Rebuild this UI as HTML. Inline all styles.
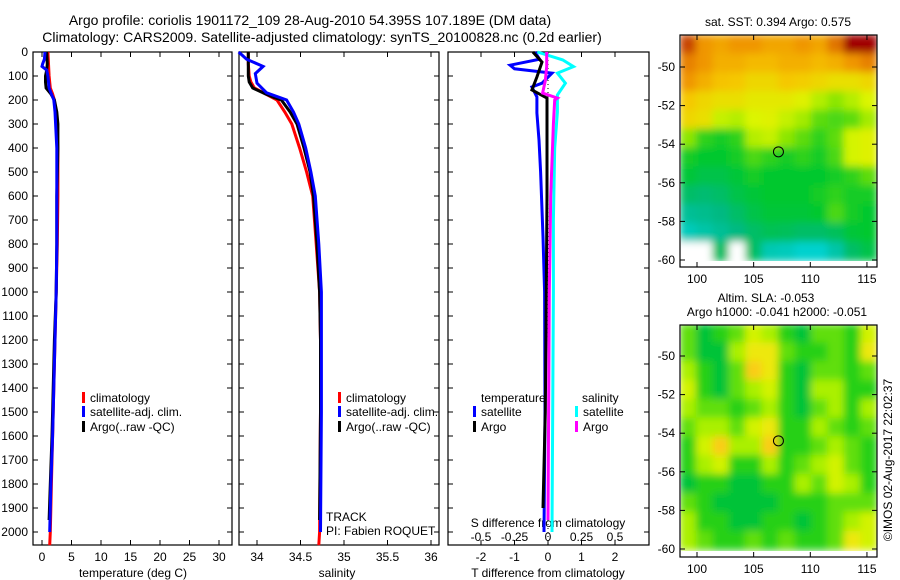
<!DOCTYPE html>
<html><head><meta charset="utf-8"><style>
html,body{margin:0;padding:0;background:#fff;}
svg{display:block;font-family:"Liberation Sans",sans-serif;}
</style></head><body>
<svg id="fig" width="900" height="580" viewBox="0 0 900 580">
<defs>
<filter id="blur" x="-5%" y="-5%" width="110%" height="110%"><feGaussianBlur stdDeviation="4"/></filter>
<clipPath id="clipA"><rect x="681" y="35" width="196" height="226"/></clipPath>
<clipPath id="clipB"><rect x="681" y="325" width="196" height="226"/></clipPath>
</defs>
</svg>
<script>
// ---------- data ----------
const tClimDepth=[0,50,100,150,175,200,250,300,400,600,800,1000,1200,1400,1600,1800,2000,2055];
const tClimVal=[1.0,1.1,1.2,1.4,1.8,2.1,2.3,2.5,2.7,2.7,2.6,2.4,2.2,2.0,1.8,1.6,1.4,1.3];
const tSatDepth=[0,30,50,60,75,100,150,175,200,250,300,400,600,800,1000,1200,1400,1600,1800,2000];
const tSatVal=[0.5,0.4,0.1,0.0,0.8,1.0,1.2,1.6,2.0,2.2,2.3,2.5,2.5,2.5,2.4,2.2,2.0,1.8,1.5,1.3];
const tArgoDepth=[0,50,75,100,125,150,175,200,250,300,400,600,800,1000,1200,1400,1600,1800,1950];
const tArgoVal=[0.8,0.9,0.8,0.6,0.6,0.7,1.5,2.1,2.5,2.7,2.7,2.5,2.5,2.4,2.1,1.9,1.7,1.4,1.2];

const sClimDepth=[0,50,100,125,150,175,200,250,300,400,500,600,800,1000,1200,1500,2000,2055];
const sClimVal=[33.9,33.9,33.91,33.93,33.97,34.1,34.23,34.32,34.4,34.49,34.57,34.64,34.68,34.72,34.73,34.73,34.72,34.71];
const sSatDepth=[0,30,60,90,130,170,200,250,300,400,500,600,800,1000,1200,1500,2000];
const sSatVal=[33.79,33.88,34.07,33.98,34.0,34.11,34.34,34.42,34.48,34.56,34.62,34.67,34.71,34.74,34.74,34.74,34.73];
const sArgoDepth=[0,50,100,125,150,175,190,200,250,300,400,500,600,800,1000,1200,1500,1950];
const sArgoVal=[33.9,33.9,33.9,33.91,33.95,34.1,34.2,34.28,34.38,34.46,34.54,34.61,34.65,34.69,34.72,34.73,34.73,34.72];

const dtSatDepth=[0,30,55,70,88,130,146,187,254,367,500,770,1000,1500,2000];
const dtSatVal=[-0.39,-0.25,-1.13,-1.0,0.12,-0.18,-0.48,-0.33,-0.33,-0.27,-0.22,-0.15,-0.1,-0.09,-0.12];
const dtArgoDepth=[0,42,104,158,192,367,600,1000,1500,1900];
const dtArgoVal=[-0.45,-0.18,-0.33,-0.48,-0.03,-0.03,-0.03,-0.05,-0.08,-0.15];
const dsSatDepth=[0,33,61,88,130,179,250,400,700,1000,2000];
const dsSatVal=[-0.08,0.11,0.19,0.07,0.13,0.07,0.07,0.05,0.04,0.04,0.03];
const dsArgoDepth=[0,60,120,171,192,200,300,600,1000,1950];
const dsArgoVal=[-0.01,-0.01,-0.02,-0.04,0.07,0.05,0.04,0.02,0.01,0.0];

const depthTicks=[0,100,200,300,400,500,600,700,800,900,1000,1100,1200,1300,1400,1500,1600,1700,1800,1900,2000];
const tempTicks=[0,5,10,15,20,25,30];
const salTicks=[34,34.5,35,35.5,36];
const salTickLabels=["34","34.5","35","35.5","36"];
const dtTicks=[-2,-1,0,1,2];
const dsTicks=[-0.5,-0.25,0,0.25,0.5];
const dsTickLabels=["-0.5","-0.25","0","0.25","0.5"];
const lonTicks=[100,105,110,115];
const latTicks=[-50,-52,-54,-56,-58,-60];
const argoLon=107.189, argoLat=-54.395;

const sstGrid=[
[0.95,0.85,0.82,0.85,0.85,0.82,0.82,0.85,0.82,0.9,1,1],
[0.88,0.85,0.8,0.8,0.78,0.78,0.8,0.8,0.78,0.8,0.85,0.88],
[0.85,0.8,0.76,0.75,0.72,0.72,0.75,0.74,0.72,0.7,0.7,0.72],
[0.75,0.72,0.7,0.7,0.68,0.68,0.68,0.66,0.6,0.55,0.6,0.65],
[0.72,0.7,0.62,0.6,0.65,0.66,0.62,0.58,0.5,0.48,0.5,0.58],
[0.55,0.45,0.42,0.45,0.6,0.62,0.55,0.5,0.45,0.5,0.64,0.66],
[0.42,0.4,0.4,0.42,0.48,0.45,0.42,0.45,0.42,0.48,0.64,0.66],
[0.38,0.35,0.35,0.38,0.42,0.4,0.4,0.4,0.4,0.42,0.45,0.5],
[0.3,0.28,0.3,0.35,0.38,0.4,0.4,0.4,0.42,0.45,0.42,0.42],
[0.2,0.22,0.25,0.3,0.35,0.38,0.38,0.38,0.4,0.48,0.42,0.4],
[0.1,0.15,0.2,0.25,0.3,0.33,0.32,0.3,0.3,0.32,0.38,0.4],
[null,null,0.3,null,0.3,0.12,0.1,0.05,0.05,0.15,0.3,0.35]];
const slaGrid=[
[0.5,0.3,0.4,0.5,0.7,0.6,0.4,0.3,0.5,0.5,0.4,0.7],
[0.5,0.3,0.3,0.6,0.8,0.8,0.5,0.4,0.4,0.5,0.4,0.8],
[0.6,0.4,0.3,0.5,0.9,0.8,0.4,0.3,0.5,0.5,0.4,0.5],
[0.7,0.4,0.3,0.5,0.6,0.7,0.4,0.3,0.6,0.6,0.4,0.4],
[0.6,0.5,0.5,0.4,0.5,0.6,0.4,0.3,0.5,0.6,0.4,0.6],
[0.5,0.6,0.6,0.5,0.7,0.8,0.4,0.4,0.6,0.5,0.4,0.5],
[0.4,0.7,0.9,0.6,0.6,0.9,0.4,0.4,0.5,0.6,0.5,0.4],
[0.4,0.6,0.7,0.4,0.4,0.6,0.4,0.5,0.6,0.7,0.5,0.4],
[0.3,0.4,0.4,0.3,0.3,0.4,0.4,0.6,0.5,0.7,0.6,0.4],
[0.5,0.4,0.3,0.3,0.3,0.3,0.4,0.4,0.4,0.5,0.5,0.5],
[0.6,0.4,0.4,0.3,0.3,0.4,0.4,0.3,0.4,0.5,0.6,0.7],
[0.6,0.5,0.4,0.4,0.5,0.4,0.5,0.4,0.4,0.5,0.8,0.7]];

// ---------- helpers ----------
const NS="http://www.w3.org/2000/svg";
const svg=document.getElementById('fig');
function el(tag,attrs,parent){const e=document.createElementNS(NS,tag);for(const k in attrs)e.setAttribute(k,attrs[k]);(parent||svg).appendChild(e);return e;}
function txt(x,y,s,anchor,size,parent){const t=el('text',{x:x,y:y,'text-anchor':anchor||'start','font-size':size||12,fill:'#000'},parent);t.textContent=s;return t;}
const yD=d=>52+0.24*d;
const xT=v=>42+5.9*v;
const xS=v=>257+87*(v-34);
const xDT=v=>548+33.5*v;
const xDS=v=>548+134*v;
const xLon=l=>697+11.33*(l-100);
const yLatA=l=>67+19.3*(-50-l);
const yLatB=l=>356+19.3*(-50-l);

function panel(x0,x1,name){
  const g=el('g',{});
  
  
  el('rect',{x:x0,y:52,width:x1-x0,height:545-52,fill:'none',stroke:'#000','stroke-width':1.2},g);
  return g;
}
function prof(depths,vals,xf,color,name,w){
  const pts=depths.map((d,i)=>xf(vals[i]).toFixed(1)+','+yD(d).toFixed(1)).join(' ');
  const p=el('polyline',{points:pts,fill:'none',stroke:color,'stroke-width':w||3,'stroke-linejoin':'miter'});
  
  
}
function legendEntry(x,y,color,label,name){
  const g=el('g',{});
  
  
  el('rect',{x:x,y:y-10,width:3,height:11,fill:color},g);
  txt(x+8,y,label,'start',12,g);
}

// ---------- titles ----------
const t1=txt(310,25,"Argo profile: coriolis 1901172_109 28-Aug-2010 54.395S 107.189E (DM data)",'middle',14);

const t2=txt(322,42,"Climatology: CARS2009. Satellite-adjusted climatology: synTS_20100828.nc (0.2d earlier)",'middle',14);


// ---------- panel 1 temperature ----------
const p1=panel(33,232,'temperature-panel');
depthTicks.forEach(d=>{
  el('line',{x1:33,y1:yD(d),x2:38,y2:yD(d),stroke:'#000'});
  el('line',{x1:232,y1:yD(d),x2:227,y2:yD(d),stroke:'#000'});
  el('line',{x1:239,y1:yD(d),x2:244,y2:yD(d),stroke:'#000'});
  el('line',{x1:439,y1:yD(d),x2:434,y2:yD(d),stroke:'#000'});
  el('line',{x1:448,y1:yD(d),x2:453,y2:yD(d),stroke:'#000'});
  el('line',{x1:649,y1:yD(d),x2:644,y2:yD(d),stroke:'#000'});
  const l=txt(28,yD(d)+4,String(d),'end',12);
  
  
});
tempTicks.forEach(v=>{
  el('line',{x1:xT(v),y1:545,x2:xT(v),y2:540,stroke:'#000'});
  el('line',{x1:xT(v),y1:52,x2:xT(v),y2:57,stroke:'#000'});
  txt(xT(v),561,String(v),'middle',12);
});
const xl1=txt(133,577,"temperature (deg C)",'middle',12);

prof(tClimDepth,tClimVal,xT,'#ff0000','temp-climatology-line');
prof(tArgoDepth,tArgoVal,xT,'#000000','temp-argo-line');
prof(tSatDepth,tSatVal,xT,'#0000ff','temp-satellite-line');
legendEntry(82,402,'#ff0000','climatology','legend-climatology');
legendEntry(82,416,'#0000ff','satellite-adj. clim.','legend-satellite-adj');
legendEntry(82,431,'#000000','Argo(..raw -QC)','legend-argo');

// ---------- panel 2 salinity ----------
panel(239,439,'salinity-panel');
salTicks.forEach((v,i)=>{
  el('line',{x1:xS(v),y1:545,x2:xS(v),y2:540,stroke:'#000'});
  el('line',{x1:xS(v),y1:52,x2:xS(v),y2:57,stroke:'#000'});
  txt(xS(v),561,salTickLabels[i],'middle',12);
});
const xl2=txt(337,577,"salinity",'middle',12);

prof(sClimDepth,sClimVal,xS,'#ff0000','sal-climatology-line');
prof(sArgoDepth,sArgoVal,xS,'#000000','sal-argo-line');
prof(sSatDepth,sSatVal,xS,'#0000ff','sal-satellite-line');
legendEntry(338,402,'#ff0000','climatology','legend-sal-climatology');
legendEntry(338,416,'#0000ff','satellite-adj. clim.','legend-sal-satellite-adj');
legendEntry(338,431,'#000000','Argo(..raw -QC)','legend-sal-argo');
const tr=txt(326,521,"TRACK",'start',12);
const pi=txt(326,535,"PI: Fabien ROQUET",'start',12);

// ---------- panel 3 differences ----------
panel(448,649,'difference-panel');
dtTicks.forEach(v=>{
  el('line',{x1:xDT(v),y1:545,x2:xDT(v),y2:540,stroke:'#000'});
  el('line',{x1:xDT(v),y1:52,x2:xDT(v),y2:57,stroke:'#000'});
  txt(xDT(v),561,String(v),'middle',12);
});
dsTicks.forEach((v,i)=>{ txt(xDS(v),541,dsTickLabels[i],'middle',12); });
txt(548,527,"S difference from climatology",'middle',12);
const xl3=txt(548,577,"T difference from climatology",'middle',12);

el('line',{x1:548,y1:52,x2:548,y2:545,stroke:'#000','stroke-width':1,'stroke-dasharray':'1,3'});
prof(dtSatDepth,dtSatVal,xDT,'#0000ff','tdiff-satellite-line');
prof(dtArgoDepth,dtArgoVal,xDT,'#000000','tdiff-argo-line');
prof(dsSatDepth,dsSatVal,xDS,'#00ffff','sdiff-satellite-line');
prof(dsArgoDepth,dsArgoVal,xDS,'#ff00ff','sdiff-argo-line');
txt(481,402,"temperature",'start',12);
txt(582,402,"salinity",'start',12);
legendEntry(473,416,'#0000ff','satellite','legend-tdiff-satellite');
legendEntry(473,431,'#000000','Argo','legend-tdiff-argo');
legendEntry(575,416,'#00ffff','satellite','legend-sdiff-satellite');
legendEntry(575,431,'#ff00ff','Argo','legend-sdiff-argo');

// ---------- maps ----------
function lerpC(stops,v){
  for(let i=1;i<stops.length;i++){ if(v<=stops[i][0]){const a=stops[i-1],b=stops[i],f=(v-a[0])/(b[0]-a[0]);
    return 'rgb('+[1,2,3].map(k=>Math.round(a[k]+(b[k]-a[k])*f)).join(',')+')';}}
  const l=stops[stops.length-1];return 'rgb('+l[1]+','+l[2]+','+l[3]+')';
}
const sstStops=[[0,0,215,225],[0.25,0,185,130],[0.4,0,200,45],[0.55,140,230,0],[0.65,220,245,0],[0.75,245,200,0],[0.85,240,150,0],[0.93,215,95,0],[1,160,0,0]];
const slaStops=[[0,0,175,90],[0.3,0,195,55],[0.45,60,215,10],[0.6,170,240,0],[0.75,230,245,0],[0.9,250,205,20],[1,245,165,20]];
function drawMap(grid,stops,yLat,clipId,yTop,name,cells){
  const lon0=98.5,lon1=115.9,lat0=-48.34,lat1=-60.05;
  const nr=grid.length,nc=grid[0].length;
  const g=el('g',{'clip-path':'url(#'+clipId+')'});
  
  
  el('rect',{x:681,y:yTop,width:196,height:226,fill:'#fff'},g);
  const gb=el('g',{filter:'url(#blur)'},g);
  grid.forEach((row,r)=>row.forEach((v,c)=>{
    const la=lat0+(lat1-lat0)*r/nr, lb=lat0+(lat1-lat0)*(r+1)/nr;
    const lo=lon0+(lon1-lon0)*c/nc, lp=lon0+(lon1-lon0)*(c+1)/nc;
    const x=xLon(lo), y=yLat(la);
    const rc=el('rect',{x:x-0.5,y:y-0.5,width:xLon(lp)-x+1,height:yLat(lb)-y+1,fill:v===null?'#ffffff':lerpC(stops,v)},gb);
    
    
  }));
  el('rect',{x:680,y:yTop,width:197,height:232,fill:'none',stroke:'#000','stroke-width':1.2});
  lonTicks.forEach(l=>{
    el('line',{x1:xLon(l),y1:yTop,x2:xLon(l),y2:yTop+5,stroke:'#000'});
    el('line',{x1:xLon(l),y1:yTop+232,x2:xLon(l),y2:yTop+227,stroke:'#000'});
    txt(xLon(l),yTop+248,String(l),'middle',12);
  });
  latTicks.forEach(l=>{
    el('line',{x1:680,y1:yLat(l),x2:685,y2:yLat(l),stroke:'#000'});
    el('line',{x1:877,y1:yLat(l),x2:872,y2:yLat(l),stroke:'#000'});
    txt(675,yLat(l)+4,String(l),'end',12);
  });
  const m=el('circle',{cx:xLon(argoLon),cy:yLat(argoLat),r:5,fill:'none',stroke:'#000','stroke-width':1});
  
  
}
drawMap(sstGrid,sstStops,yLatA,'clipA',35,'sst-map','sst-cell');
drawMap(slaGrid,slaStops,yLatB,'clipB',325,'sla-map','sla-cell');
const mt1=txt(778,26,"sat. SST: 0.394 Argo: 0.575",'middle',12);

const mt2=txt(766,302,"Altim. SLA: -0.053",'middle',12);

const mt3=txt(777,316,"Argo h1000: -0.041 h2000: -0.051",'middle',12);

const cp=txt(0,0,"©IMOS 02-Aug-2017 22:02:37",'middle',12);
cp.setAttribute('transform','translate(892,460) rotate(-90)');

</script>
</body></html>
